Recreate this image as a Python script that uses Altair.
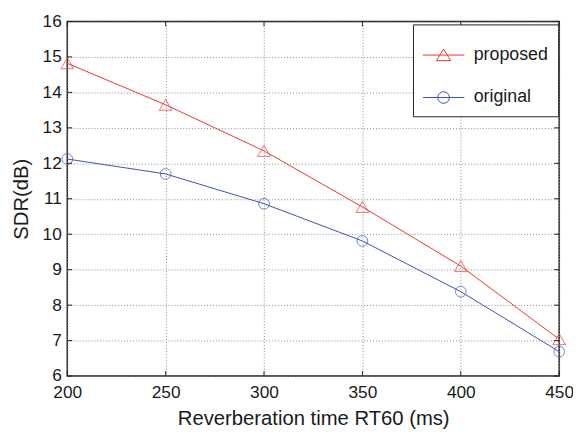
import altair as alt
import pandas as pd

# ---- data ----
rt60 = [200, 250, 300, 350, 400, 450]
proposed = [14.82, 13.65, 12.35, 10.77, 9.10, 7.04]
original = [12.12, 11.70, 10.86, 9.81, 8.38, 6.69]
series_names = ["proposed", "original"]
series_colors = ["#e53a30", "#3d4fb3"]
series_markers = ["triangle-up", "circle"]
marker_sizes = [165, 118]
x_ticks = [200, 250, 300, 350, 400, 450]
y_ticks = [6, 7, 8, 9, 10, 11, 12, 13, 14, 15, 16]

df = pd.DataFrame({
    "rt60": rt60 * 2,
    "sdr": proposed + original,
    "series": ["proposed"] * len(rt60) + ["original"] * len(rt60),
})
xt = pd.DataFrame({"rt60": x_ticks})
yt = pd.DataFrame({"sdr": y_ticks})

W, H = 498, 359
FONT = "Liberation Sans"

xs = alt.Scale(domain=[200, 450], nice=False, zero=False)
ys = alt.Scale(domain=[6, 16], nice=False, zero=False)
X = alt.X("rt60:Q", scale=xs, axis=alt.Axis(
    values=x_ticks, title="Reverberation time RT60 (ms)", labelFlush=False,
    labelOverlap=False, labelPadding=8, titlePadding=8))
Y = alt.Y("sdr:Q", scale=ys, axis=alt.Axis(
    values=y_ticks, title="SDR(dB)", labelFlush=False, labelOverlap=False,
    labelPadding=6, titlePadding=11))

cscale = alt.Scale(domain=series_names, range=series_colors)

tri_path = "M-1,0H1M0,-0.29L0.34,0.27H-0.34Z"
circ_path = "M-1,0H1M0.28,0A0.28,0.28 0 1,1 -0.28,0A0.28,0.28 0 1,1 0.28,0Z"

leg = alt.Legend(
    orient="none", legendX=350, legendY=3, title=None,
    symbolSize=1764, symbolStrokeWidth=1, symbolOpacity=1,
    labelFont=FONT, labelFontSize=18, labelColor="#1a1a1a", labelOffset=9,
    padding=9.5, rowPadding=12, strokeColor="#222222", fillColor="white",
    labelExpr="datum.label + '\u00a0\u00a0'",
)

base = alt.Chart(df)

series_layers = []
for name, col, mk, sz in zip(series_names, series_colors, series_markers, marker_sizes):
    sub = base.transform_filter(alt.datum.series == name)
    series_layers.append(sub.mark_line(strokeWidth=1, color=col).encode(x=X, y=Y))
    series_layers.append(sub.mark_point(shape=mk, size=sz, filled=False,
                                        strokeWidth=1, color=col).encode(x=X, y=Y))

legend_layer = base.mark_point(filled=False, strokeWidth=1).encode(
    x=X, y=Y,
    color=alt.Color("series:N", scale=cscale, legend=leg),
    shape=alt.Shape("series:N", scale=alt.Scale(domain=series_names,
                                                range=[tri_path, circ_path]),
                    legend=leg),
    opacity=alt.value(0),
)

tick_style = dict(color="#222222", strokeWidth=1)
xt_top = alt.Chart(xt).mark_rule(**tick_style).encode(
    x=X, y=alt.value(0), y2=alt.value(5))
xt_bot = alt.Chart(xt).mark_rule(**tick_style).encode(
    x=X, y=alt.value(H - 5), y2=alt.value(H))
yt_left = alt.Chart(yt).mark_rule(**tick_style).encode(
    y=Y, x=alt.value(0), x2=alt.value(5))
yt_right = alt.Chart(yt).mark_rule(**tick_style).encode(
    y=Y, x=alt.value(W - 5), x2=alt.value(W))

chart = alt.layer(
    xt_top, xt_bot, yt_left, yt_right, *series_layers, legend_layer
).properties(
    width=W, height=H,
    autosize=alt.AutoSizeParams(type="none"),
    padding={"left": 60, "top": 11, "right": 14, "bottom": 53},
    background="white",
).configure_view(
    stroke="#222222", strokeWidth=1.5
).configure_axis(
    domain=False, ticks=False, grid=True, gridDash=[1, 2], gridColor="#8a8a8a",
    gridWidth=1, labelFont=FONT, labelFontSize=17.5, labelColor="#1a1a1a",
    titleFont=FONT, titleFontSize=20.5, titleFontWeight="normal", titleColor="#1a1a1a",
)

chart.save("out.html", embed_options={"renderer": "svg", "actions": False})
